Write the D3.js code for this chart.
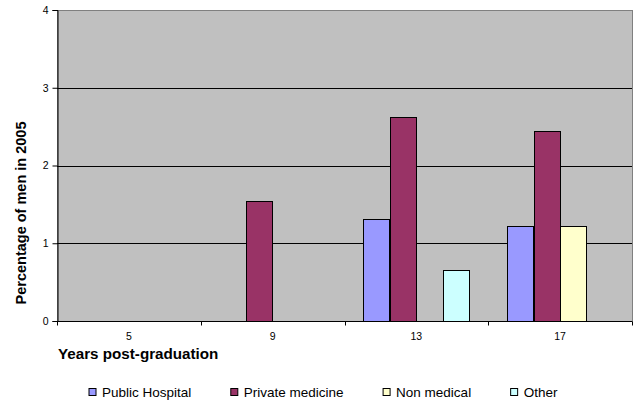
<!DOCTYPE html>
<html>
<head>
<meta charset="utf-8">
<script src="https://cdn.jsdelivr.net/npm/d3@7"></script>
<style>
  html, body { margin: 0; padding: 0; background: #ffffff; }
  svg { display: block; font-family: "Liberation Sans", Arial, sans-serif; }
</style>
</head>
<body>
<svg id="chart" width="639" height="402"></svg>
<script>
// Years since graduation (x categories)
const categories = ["5", "9", "13", "17"];
// Sectors shown as grouped bars
const seriesNames = ["Public Hospital", "Private medicine", "Non medical", "Other"];
const seriesColors = ["#9999FF", "#993366", "#FFFFCC", "#CCFFFF"];
// Percentage of men in 2005, one array per sector, aligned with categories
const publicHospital = [0, 0, 1.31, 1.22];
const privateMedicine = [0, 1.54, 2.62, 2.45];
const nonMedical = [0, 0, 0, 1.22];
const other = [0, 0, 0.65, 0];
const yTicks = [0, 1, 2, 3, 4];

const seriesValues = [publicHospital, privateMedicine, nonMedical, other];

const svg = d3.select("#chart");
const plot = { left: 57, right: 632, top: 10, bottom: 321 };

const x = d3.scaleBand().domain(categories).range([plot.left, plot.right]).paddingInner(0).paddingOuter(0);
const xs = d3.scaleBand().domain(seriesNames).range([0, x.bandwidth()]).paddingInner(0).paddingOuter(0.7125);
const y = d3.scaleLinear().domain([0, 4]).range([plot.bottom, plot.top]);

// Plot area background
svg.append("rect")
  .attr("x", plot.left).attr("y", plot.top)
  .attr("width", plot.right - plot.left).attr("height", plot.bottom - plot.top)
  .attr("fill", "#C0C0C0").attr("stroke", "#808080").attr("stroke-width", 1)
  .attr("shape-rendering", "crispEdges");

// Horizontal gridlines
svg.append("g").selectAll("line")
  .data(yTicks.filter(t => t > 0 && t < 4))
  .join("line")
  .attr("x1", plot.left).attr("x2", plot.right)
  .attr("y1", d => Math.round(y(d)) + 0.5).attr("y2", d => Math.round(y(d)) + 0.5)
  .attr("stroke", "#000").attr("stroke-width", 1);

// Bars
const rows = [];
seriesNames.forEach((name, si) => {
  categories.forEach((c, ci) => {
    const v = seriesValues[si][ci];
    if (v > 0) rows.push({ name, c, v, color: seriesColors[si] });
  });
});
svg.append("g").selectAll("rect")
  .data(rows)
  .join("rect")
  .attr("x", d => Math.round(x(d.c) + xs(d.name)) + 0.5)
  .attr("y", d => Math.round(y(d.v)) + 0.5)
  .attr("width", Math.round(xs.bandwidth()))
  .attr("height", d => Math.round(y(0)) - Math.round(y(d.v)))
  .attr("fill", d => d.color)
  .attr("stroke", "#000").attr("stroke-width", 1);

// Y axis
const yAxis = svg.append("g")
  .attr("transform", `translate(${plot.left + 0.5},0)`)
  .call(d3.axisLeft(y).tickValues(yTicks).tickSize(5).tickPadding(4).tickFormat(d3.format("d")));
yAxis.selectAll("text").attr("font-size", 10.5).attr("fill", "#000").attr("font-family", "Liberation Sans, Arial, sans-serif");
yAxis.selectAll("line, path").attr("stroke", "#000");

// X axis: ticks sit on category boundaries, labels at category centres
const xAxisG = svg.append("g").attr("transform", `translate(0,${plot.bottom + 0.5})`);
xAxisG.append("line").attr("x1", plot.left).attr("x2", plot.right).attr("stroke", "#000");
const boundaries = categories.map(c => x(c)).concat([x(categories[categories.length - 1]) + x.bandwidth()]);
xAxisG.selectAll("line.tick").data(boundaries).join("line")
  .attr("class", "tick")
  .attr("x1", d => Math.round(d) + 0.5).attr("x2", d => Math.round(d) + 0.5)
  .attr("y1", 0).attr("y2", 4).attr("stroke", "#000");
xAxisG.selectAll("text").data(categories).join("text")
  .attr("x", d => x(d) + x.bandwidth() / 2).attr("y", 18)
  .attr("text-anchor", "middle").attr("font-size", 10.5).attr("fill", "#000")
  .text(d => d);

// Axis titles
svg.append("text")
  .attr("x", 58).attr("y", 359)
  .attr("font-size", 15.2).attr("font-weight", "bold").attr("fill", "#000")
  .text("Years post-graduation");
svg.append("text")
  .attr("transform", "translate(26,213) rotate(-90)")
  .attr("text-anchor", "middle")
  .attr("font-size", 14.5).attr("font-weight", "bold").attr("fill", "#000")
  .text("Percentage of men in 2005");

// Legend
const legend = svg.append("g");
let lx = 88.5;
seriesNames.forEach((name, i) => {
  const g = legend.append("g").attr("transform", `translate(${lx},0)`);
  g.append("rect").attr("x", 0.5).attr("y", 388.5).attr("width", 7).attr("height", 7)
    .attr("fill", seriesColors[i]).attr("stroke", "#000").attr("stroke-width", 1);
  const t = g.append("text").attr("x", 13.5).attr("y", 396.5)
    .attr("font-size", 13.5).attr("fill", "#000").text(name);
  lx += 13.5 + t.node().getComputedTextLength() + 39;
});
</script>
</body>
</html>
